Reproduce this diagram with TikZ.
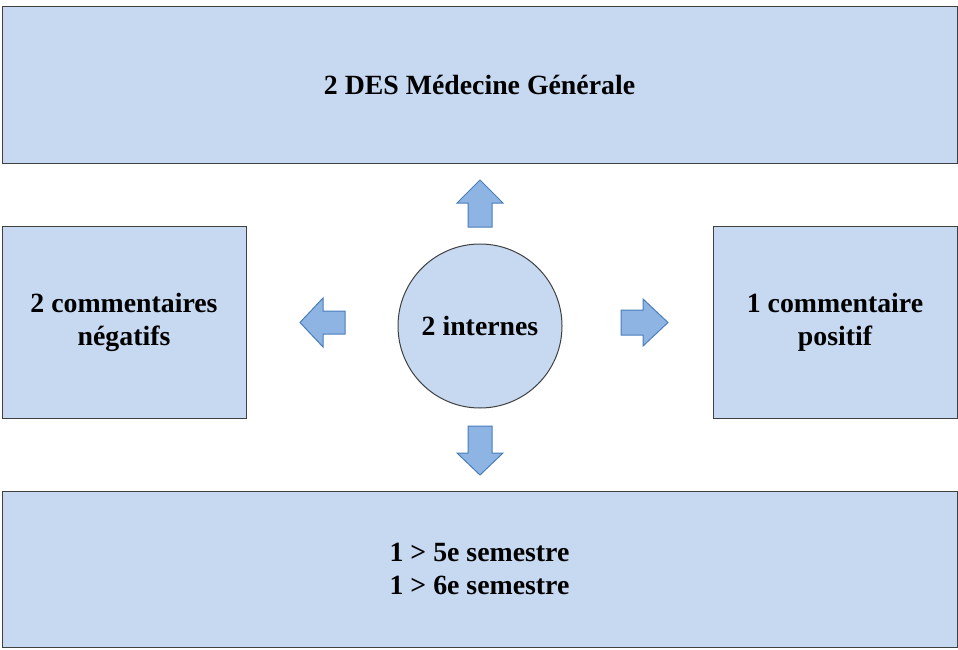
\documentclass[tikz,border=0pt]{standalone}
\usepackage{fontspec}
\setmainfont{Liberation Serif}
\definecolor{boxfill}{HTML}{C6D9F1}
\definecolor{boxline}{HTML}{404040}
\definecolor{arrfill}{HTML}{8EB4E3}
\definecolor{arrline}{HTML}{4A7EBB}
\begin{document}
\begin{tikzpicture}[x=1pt,y=-1pt,
  panel/.style={draw=boxline,fill=boxfill,line width=1pt,inner sep=0pt,align=center,
    font=\fontsize{27.8}{33}\selectfont\bfseries},
  fatarrow/.style={draw=arrline,fill=arrfill,line width=1pt,line join=miter}]
\useasboundingbox (0,0) rectangle (958,650);
\node[panel,minimum width=955pt,minimum height=156pt] (top) at (479.5,85) {2 DES Médecine Générale};
\node[panel,minimum width=244pt,minimum height=192pt] (left) at (124,322) {2 commentaires\\négatifs};
\node[panel,minimum width=244pt,minimum height=192pt] (right) at (835,322) {1 commentaire\\positif};
\node[panel,minimum width=955pt,minimum height=156pt] (bottom) at (479.5,569) {1 > 5e semestre\\1 > 6e semestre};
\node[panel,circle,minimum size=164pt] (center) at (480,326) {2 internes};
% block arrows
\draw[fatarrow] (468,227) -- (492,227) -- (492,203) -- (503,203) -- (480,180) -- (457,203) -- (468,203) -- cycle;
\draw[fatarrow] (468,426) -- (492,426) -- (492,453) -- (503,453) -- (480,475) -- (457,453) -- (468,453) -- cycle;
\draw[fatarrow] (345,311) -- (345,334) -- (323,334) -- (323,347) -- (300,322.5) -- (323,298) -- (323,311) -- cycle;
\draw[fatarrow] (621,310) -- (643,310) -- (643,299) -- (668,322.5) -- (643,346) -- (643,335) -- (621,335) -- cycle;
\end{tikzpicture}
\end{document}
